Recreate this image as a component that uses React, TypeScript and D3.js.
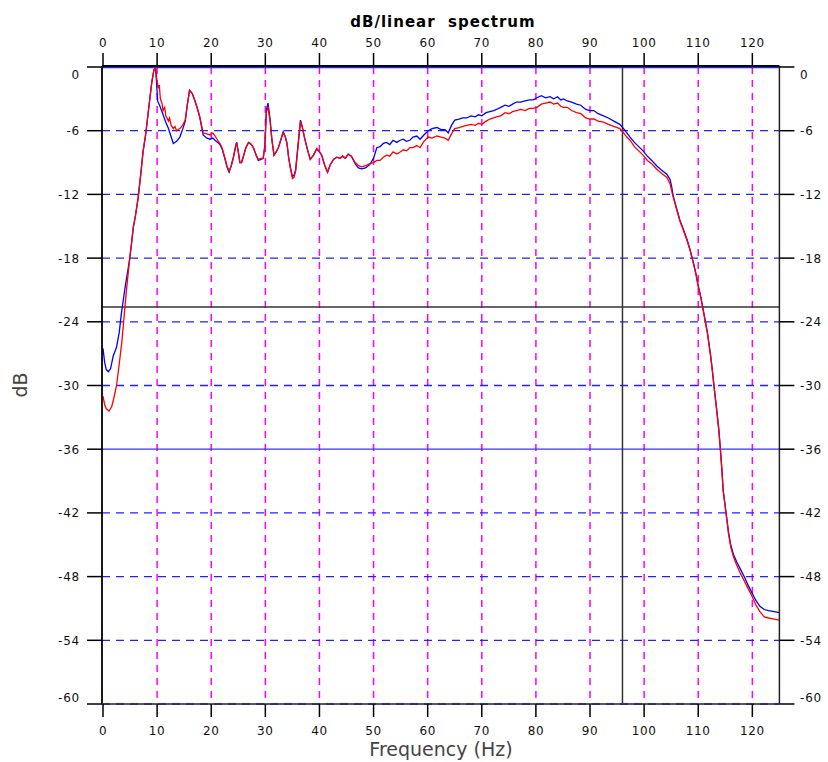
import React from "react";
import * as d3 from "d3";

const title = "dB/linear\u00a0\u00a0spectrum";
const xLabel = "Frequency (Hz)";
const yLabel = "dB";
const xTicks = [0, 10, 20, 30, 40, 50, 60, 70, 80, 90, 100, 110, 120];
const yTicks = [0, -6, -12, -18, -24, -30, -36, -42, -48, -54, -60];
const cursorFreq = 96;
const cursorDb = -22.6;
const refLineDb = -36;

// red series [Hz, dB]
const redSeries: [number, number][] = [
  [0, -31.0], [0.3, -31.8], [0.6, -32.2], [1.1, -32.4], [1.6, -32.0], [2.0, -31.2], [2.5, -30.0],
  [3.0, -28.0], [3.5, -25.8], [3.9, -23.5], [4.3, -21.2], [4.9, -18.2], [5.3, -16.5], [5.6, -15.1],
  [6.0, -14.0], [6.5, -12.3], [7.0, -10.0], [7.4, -8.0], [7.9, -6.3], [8.4, -4.1], [9.0, -1.5],
  [9.4, -0.3], [9.7, 0], [9.9, -1.0], [10.2, -2.0], [10.4, -1.7], [10.6, -3.0], [10.9, -3.4], [11.1, -4.1], [11.4, -3.8], [11.6, -4.6],
  [12.1, -5.1], [12.3, -4.8], [12.6, -5.5], [13.0, -5.8], [13.3, -5.6], [13.6, -6.0], [14.2, -5.8], [14.7, -5.5], [15.2, -5.0],
  [15.6, -3.5], [16.0, -2.2], [16.5, -2.5], [17.0, -3.2], [17.5, -4.0], [17.9, -4.7], [18.5, -6.2],
  [19.2, -6.3], [19.8, -6.4], [20.3, -6.2], [20.7, -6.5], [21.2, -6.9], [21.6, -7.2], [22.0, -7.6],
  [22.5, -8.5], [22.9, -9.3], [23.3, -9.8], [23.7, -9.3], [24.1, -8.5], [24.5, -7.5], [24.7, -7.1],
  [25.0, -8.0], [25.3, -9.0], [25.6, -9.0], [25.9, -8.5], [26.4, -7.6], [26.9, -7.1], [27.4, -7.3],
  [27.8, -7.6], [28.3, -8.3], [28.7, -8.7], [29.2, -8.6], [29.6, -8.6], [29.9, -7.5], [30.2, -4.2],
  [30.5, -3.8], [30.9, -5.2], [31.2, -6.8], [31.6, -8.3], [32.0, -8.0], [32.4, -7.6], [32.9, -6.8],
  [33.3, -6.2], [33.7, -6.6], [34.0, -7.2], [34.3, -8.5], [34.6, -9.4], [35.0, -10.5], [35.3, -10.4],
  [35.6, -9.8], [36.1, -7.2], [36.5, -5.1], [36.8, -5.6], [37.3, -6.8], [37.8, -7.8], [38.3, -8.7],
  [38.9, -8.3], [39.5, -7.7], [40.0, -8.0], [40.4, -8.3], [41.0, -9.3], [41.5, -9.9], [42.0, -9.2],
  [42.6, -8.7], [43.2, -8.5], [43.8, -8.6], [44.3, -8.4], [44.8, -8.6], [45.3, -8.2], [45.9, -8.4],
  [46.6, -9.0], [47.2, -9.3], [47.8, -9.4], [48.5, -9.3], [49.3, -9.1], [50.0, -9.0], [50.6, -8.8],
  [51.2, -8.8], [51.8, -8.5], [52.4, -8.3], [53.0, -8.4], [53.6, -8.0], [54.3, -8.2], [54.9, -8.0],
  [55.5, -7.8], [56.1, -7.9], [56.7, -7.6], [57.3, -7.6], [58.0, -7.4], [58.6, -7.6], [59.3, -7.0],
  [60.1, -6.6], [60.8, -6.7], [61.7, -6.5], [62.5, -6.6], [63.2, -6.7], [63.8, -6.9], [64.4, -6.3],
  [65.0, -5.8], [65.8, -5.7], [66.5, -5.6], [67.2, -5.5], [68.0, -5.4], [68.8, -5.5], [69.4, -5.3],
  [70.0, -5.4], [70.8, -5.1], [71.5, -4.9], [72.2, -4.8], [72.7, -4.7], [73.5, -4.6], [74.3, -4.3],
  [75.0, -4.4], [75.7, -4.2], [76.4, -4.1], [77.2, -4.0], [78.0, -4.1], [78.8, -3.9], [79.5, -3.9],
  [80.2, -3.8], [81.0, -3.5], [81.8, -3.4], [82.6, -3.3], [83.3, -3.5], [84.0, -3.4], [84.6, -3.7],
  [85.1, -3.8], [85.8, -3.8], [86.6, -4.1], [87.5, -4.3], [88.3, -4.4], [89.2, -4.8], [90.0, -4.9],
  [90.7, -4.9], [91.5, -5.1], [92.5, -5.2], [93.4, -5.4], [94.4, -5.6], [95.5, -5.8], [96.2, -6.2],
  [96.8, -6.6], [97.4, -6.9], [98.2, -7.5], [99.0, -7.9], [99.8, -8.3], [100.6, -8.8], [101.4, -9.1],
  [102.3, -9.6], [103.2, -10.0], [104.2, -10.4], [104.8, -11.0], [105.1, -11.7], [105.4, -12.3],
  [106.0, -13.4], [106.6, -14.5], [107.2, -15.3], [107.9, -16.3], [108.5, -17.3], [109.1, -18.5],
  [109.6, -19.6], [110.0, -20.7], [110.5, -21.8], [110.9, -22.9], [111.3, -24.0], [111.7, -25.1],
  [112.0, -26.2], [112.3, -27.3], [112.6, -28.6], [113.0, -30.5], [113.4, -32.3], [113.8, -34.2],
  [114.1, -36.1], [114.4, -38.2], [114.6, -39.9], [115.0, -41.5], [115.3, -42.7], [115.6, -44.0],
  [116.0, -45.2], [116.5, -46.1], [117.1, -46.9], [117.8, -47.7], [118.6, -48.5], [119.3, -49.2],
  [119.9, -49.8], [120.6, -50.6], [121.4, -51.3], [122.2, -51.8], [123.0, -51.9], [124.0, -52.0],
  [125.0, -52.1],
];

// blue series [Hz, dB]
const blueSeries: [number, number][] = [
  [0, -26.5], [0.3, -27.8], [0.6, -28.5], [1.0, -28.7], [1.4, -28.4], [1.9, -27.2], [2.5, -26.4],
  [3.0, -25.0], [3.4, -23.2], [4.1, -20.7], [4.9, -18.2], [5.3, -16.5], [5.6, -15.1], [6.0, -14.0],
  [6.5, -12.3], [7.0, -10.0], [7.4, -8.0], [7.9, -6.3], [8.4, -4.1], [9.0, -1.5], [9.4, -0.3],
  [9.7, 0], [9.9, -1.5], [10.1, -3.2], [10.6, -3.8], [11.1, -4.5], [11.6, -5.2], [12.1, -5.8],
  [12.6, -6.6], [13.0, -7.2], [13.6, -7.0], [14.2, -6.6], [14.7, -5.9], [15.2, -5.1], [15.6, -3.5],
  [16.0, -2.2], [16.5, -2.5], [17.0, -3.2], [17.5, -4.0], [17.9, -4.8], [18.5, -6.4], [19.2, -6.7],
  [19.8, -6.8], [20.3, -6.7], [20.7, -6.9], [21.2, -7.1], [21.6, -7.3], [22.0, -7.7], [22.5, -8.6],
  [22.9, -9.4], [23.3, -9.9], [23.7, -9.3], [24.1, -8.5], [24.5, -7.5], [24.7, -7.1], [25.0, -8.0],
  [25.3, -9.0], [25.6, -9.0], [25.9, -8.5], [26.4, -7.6], [26.9, -7.1], [27.4, -7.3], [27.8, -7.6],
  [28.3, -8.3], [28.7, -8.8], [29.2, -8.7], [29.6, -8.6], [29.9, -7.5], [30.2, -4.0], [30.5, -3.4],
  [30.9, -5.0], [31.2, -6.8], [31.6, -8.3], [32.0, -8.0], [32.4, -7.6], [32.9, -6.8], [33.3, -6.1],
  [33.7, -6.6], [34.0, -7.2], [34.3, -8.5], [34.6, -9.4], [35.0, -10.3], [35.3, -10.2], [35.6, -9.7],
  [36.1, -7.0], [36.5, -5.0], [36.8, -5.6], [37.3, -6.8], [37.8, -7.8], [38.3, -8.7], [38.9, -8.3],
  [39.5, -7.7], [40.0, -8.0], [40.4, -8.3], [41.0, -9.3], [41.5, -9.9], [42.0, -9.2], [42.6, -8.7],
  [43.2, -8.5], [43.8, -8.6], [44.3, -8.4], [44.8, -8.6], [45.3, -8.2], [45.9, -8.4], [46.6, -9.1],
  [47.2, -9.5], [47.8, -9.6], [48.5, -9.5], [49.3, -9.2], [50.0, -8.6], [50.6, -7.6], [51.2, -7.5],
  [51.8, -7.2], [52.4, -7.1], [53.0, -7.3], [53.6, -6.9], [54.3, -7.1], [54.9, -6.9], [55.5, -6.8],
  [56.1, -7.0], [56.7, -6.9], [57.3, -6.6], [58.0, -6.5], [58.6, -6.8], [59.3, -6.4], [60.1, -6.0],
  [60.8, -5.8], [61.7, -5.7], [62.5, -5.9], [63.2, -5.9], [63.8, -6.2], [64.4, -5.5], [65.0, -5.0],
  [65.8, -4.9], [66.5, -4.8], [67.2, -4.8], [68.0, -4.6], [68.8, -4.7], [69.4, -4.5], [70.0, -4.6],
  [70.8, -4.3], [71.5, -4.2], [72.2, -4.1], [72.7, -4.0], [73.5, -3.8], [74.3, -3.6], [75.0, -3.7],
  [75.7, -3.5], [76.4, -3.3], [77.2, -3.3], [78.0, -3.2], [78.8, -3.1], [79.5, -3.1], [80.2, -2.9],
  [81.0, -2.7], [81.8, -2.9], [82.6, -2.8], [83.3, -3.0], [84.0, -2.8], [84.6, -3.1], [85.1, -3.0],
  [85.8, -3.2], [86.6, -3.3], [87.5, -3.5], [88.3, -3.6], [89.2, -4.0], [90.0, -4.1], [90.7, -4.1],
  [91.5, -4.4], [92.5, -4.6], [93.4, -4.8], [94.4, -5.1], [95.5, -5.4], [96.2, -5.8], [96.8, -6.2],
  [97.4, -6.6], [98.2, -7.1], [99.0, -7.5], [99.8, -7.9], [100.6, -8.4], [101.4, -8.8], [102.3, -9.3],
  [103.2, -9.7], [104.2, -10.1], [104.8, -10.6], [105.1, -11.3], [105.4, -12.2], [106.0, -13.3],
  [106.6, -14.4], [107.2, -15.2], [107.9, -16.2], [108.5, -17.2], [109.1, -18.4], [109.6, -19.5],
  [110.0, -20.6], [110.5, -21.7], [110.9, -22.8], [111.3, -23.9], [111.7, -25.0], [112.0, -26.1],
  [112.3, -27.2], [112.6, -28.5], [113.0, -30.4], [113.4, -32.2], [113.8, -34.1], [114.1, -36.0],
  [114.4, -38.1], [114.6, -39.8], [115.0, -41.4], [115.3, -42.6], [115.6, -43.8], [116.0, -45.0],
  [116.5, -45.9], [117.1, -46.6], [117.8, -47.3], [118.6, -48.1], [119.3, -48.9], [119.9, -49.5],
  [120.6, -50.2], [121.4, -50.8], [122.2, -51.1], [123.0, -51.2], [124.0, -51.3], [125.0, -51.4],
];

const W = 828;
const H = 762;

export default function App() {
  const x = d3.scaleLinear().domain([0, 125]).range([103, 779.4]);
  const y = d3.scaleLinear().domain([-60, 0]).range([704, 67]);
  const line = d3
    .line<[number, number]>()
    .x((d) => x(d[0]))
    .y((d) => y(d[1]));

  const left = x(0) - 1;
  const right = x(125);
  const top = y(0);
  const bottom = y(-60);
  const tickFont = "DejaVu Sans, Verdana, sans-serif";

  return (
    <svg
      width={W}
      height={H}
      style={{ position: "absolute", left: 0, top: 0, background: "#fff" }}
    >
      <rect x={0} y={0} width={W} height={H} fill="#fff" />
      {/* vertical grid */}
      {xTicks
        .filter((t) => t > 0)
        .map((t) => (
          <line
            key={"vg" + t}
            x1={x(t)}
            x2={x(t)}
            y1={top}
            y2={bottom}
            stroke="#ff00ff"
            strokeWidth={1.5}
            strokeDasharray="7,6"
          />
        ))}
      {/* horizontal grid */}
      {yTicks
        .filter((t) => t < 0 && t !== refLineDb)
        .map((t) => (
          <line
            key={"hg" + t}
            x1={left}
            x2={right}
            y1={y(t)}
            y2={y(t)}
            stroke="#2222ff"
            strokeWidth={1.3}
            strokeDasharray="8,6"
          />
        ))}
      <line x1={left} x2={right} y1={y(refLineDb)} y2={y(refLineDb)} stroke="#3333ff" strokeWidth={1.3} />
      <line x1={left} x2={right} y1={top + 0.5} y2={top + 0.5} stroke="#2222ff" strokeWidth={1.5} />
      {/* cursors */}
      <line x1={x(cursorFreq)} x2={x(cursorFreq)} y1={top} y2={bottom} stroke="#333" strokeWidth={1.5} />
      <line x1={left} x2={right} y1={y(cursorDb)} y2={y(cursorDb)} stroke="#333" strokeWidth={1.5} />
      {/* series */}
      <path d={line(blueSeries) || ""} fill="none" stroke="#0000ff" strokeWidth={1.3} />
      <path d={line(redSeries) || ""} fill="none" stroke="#ff0000" strokeWidth={1.3} />
      {/* frame */}
      <line x1={left} x2={right} y1={top - 1} y2={top - 1} stroke="#000" strokeWidth={1.8} />
      <line x1={left} x2={right} y1={bottom} y2={bottom} stroke="#222" strokeWidth={1.5} />
      <line x1={left} x2={left} y1={top - 1} y2={bottom} stroke="#000" strokeWidth={1.8} />
      <line x1={right} x2={right} y1={top - 1} y2={bottom} stroke="#222" strokeWidth={1.5} />
      <line x1={left} x2={right} y1={bottom - 0.5} y2={bottom - 0.5} stroke="#2222ff" strokeWidth={1.2} strokeDasharray="8,6" />
      {/* x ticks top & bottom */}
      {xTicks.map((t) => (
        <g key={"xt" + t}>
          <line x1={x(t)} x2={x(t)} y1={top - 14} y2={top} stroke="#000" strokeWidth={1.5} />
          <line x1={x(t)} x2={x(t)} y1={bottom} y2={bottom + 13} stroke="#000" strokeWidth={1.5} />
          <text x={x(t)} y={47} textAnchor="middle" fontFamily={tickFont} fontSize={12} letterSpacing={0.6} fill="#111">
            {t}
          </text>
          <text x={x(t)} y={735} textAnchor="middle" fontFamily={tickFont} fontSize={12} letterSpacing={0.6} fill="#111">
            {t}
          </text>
        </g>
      ))}
      {/* y ticks left & right */}
      {yTicks.map((t) => {
        const yy = t === -60 ? y(t) - 7 : t === 0 ? y(t) + 7 : y(t);
        const label = String(t);
        return (
          <g key={"yt" + t}>
            <line x1={left - 15} x2={left} y1={y(t)} y2={y(t)} stroke="#000" strokeWidth={1.5} />
            <line x1={right} x2={right + 15} y1={y(t)} y2={y(t)} stroke="#000" strokeWidth={1.5} />
            <text x={80} y={yy + 4.5} textAnchor="end" fontFamily={tickFont} fontSize={12} letterSpacing={0.8} fill="#111">
              {label}
            </text>
            <text x={800} y={yy + 4.5} textAnchor="start" fontFamily={tickFont} fontSize={12} letterSpacing={0.8} fill="#111">
              {label}
            </text>
          </g>
        );
      })}
      {/* title and labels */}
      <text x={443} y={27} textAnchor="middle" fontFamily={tickFont} fontWeight="bold" fontSize={15} letterSpacing={1} fill="#000">
        {title}
      </text>
      <text x={441} y={756} textAnchor="middle" fontFamily={tickFont} fontSize={19} fill="#444">
        {xLabel}
      </text>
      <text
        transform={`translate(27,385) rotate(-90)`}
        textAnchor="middle"
        fontFamily={tickFont}
        fontSize={19}
        fill="#444"
      >
        {yLabel}
      </text>
    </svg>
  );
}
